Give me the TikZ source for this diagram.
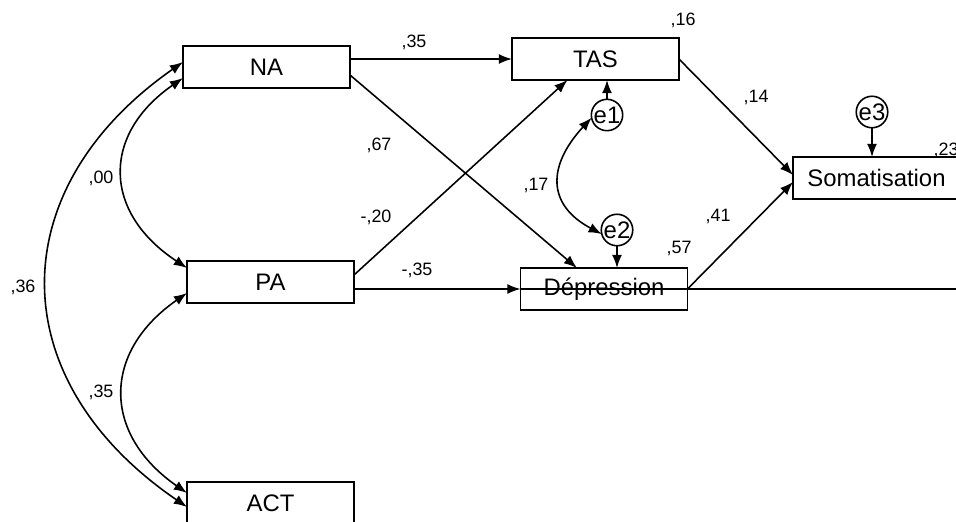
\documentclass[tikz,border=0pt]{standalone}
\usepackage{fontspec}
\setmainfont{Liberation Sans}
\usetikzlibrary{arrows.meta, calc}

\begin{document}
\begin{tikzpicture}[x=0.02cm, y=-0.02cm, >={Latex[length=7.5pt, width=5.7pt]}, line width=0.9pt,
    var/.style={draw, rectangle, minimum width=3.34cm, minimum height=0.84cm, inner sep=0pt, outer sep=0pt, font=\fontsize{13.6}{16}\selectfont},
    err/.style={draw, circle, minimum size=0.6cm, inner sep=0pt, outer sep=0pt, font=\fontsize{13.6}{16}\selectfont},
    coef/.style={inner sep=0pt, font=\fontsize{10.2}{12}\selectfont}]
    \useasboundingbox (0,0) rectangle (956,521);
    %%% Variables
    \node[var] (NA) at (266.5,67) {NA};
    \node[var] (PA) at (270.5,282) {PA};
    \node[var] (ACT) at (270.5,503) {ACT};
    \node[var] (TAS) at (595.5,59) {TAS};
    \node[var] (Dep) at (604,289) {Dépression};
    \node[var] (Soma) at (876.5,178) {Somatisation};
    \coordinate (exit) at (956,289);
    %
    \node[err] (e1) at (607,115) {e1};
    \node[err] (e2) at (617,230) {e2};
    \node[err] (e3) at (872,112) {e3};
    %%% Paths
    \draw[->] (NA.east |- TAS.west) -- (TAS.west);
    \draw[->] ($(NA.east)+(0,8)$) -- ($(Dep.north)+(-27,0)$);
    \draw[->] ($(PA.east)+(0,-7)$) -- ($(TAS.south)+(-28,0)$);
    \draw[->] (PA.east |- Dep.west) -- (Dep.west);
    \draw (Dep.west) -- (exit); % runs on past the edge
    \draw[->] (TAS.east) -- ($(Soma.west)+(0,-3)$);
    \draw[->] (Dep.east) -- ($(Soma.west)+(0,4)$);
    %
    \draw[->] (e1) -- (e1 |- TAS.south);
    \draw[->] (e2) -- (e2 |- Dep.north);
    \draw[->] (e3) -- (e3 |- Soma.north);
    %%% Covariances
    \draw[<->] ($(NA.west)+(0,11)$) .. controls (102,134) and (102,212) .. ($(PA.west)+(0,-14)$);
    \draw[<->] ($(PA.west)+(0,11)$) .. controls (102,352) and (102,434) .. ($(ACT.west)+(0,-10)$);
    \draw[<->] ($(NA.west)+(0,-5)$) .. controls (1,189) and (1,380) .. ($(ACT.west)+(0,4)$);
    \draw[<->] (e1.190) .. controls (547,166) and (547,205) .. (e2.195);
    %%% Coefficients
    \node[coef] (r16) at (683,20) {,16};
    \node[coef] (r57) at (679,248) {,57};
    \node[coef] (r23) at (946,150) {,23};
    \node[coef] (bNT) at (414,42) {,35};
    \node[coef] (bND) at (379,145) {,67};
    \node[coef] (bPT) at (376,217) {-,20};
    \node[coef] (bPD) at (417,270) {-,35};
    \node[coef] (bTS) at (756,97) {,14};
    \node[coef] (bDS) at (718,216) {,41};
    \node[coef] (c12) at (536,185) {,17};
    \node[coef] (cNP) at (101,178) {,00};
    \node[coef] (cNA) at (23,287) {,36};
    \node[coef] (cPA) at (101,392) {,35};
\end{tikzpicture}
\end{document}
